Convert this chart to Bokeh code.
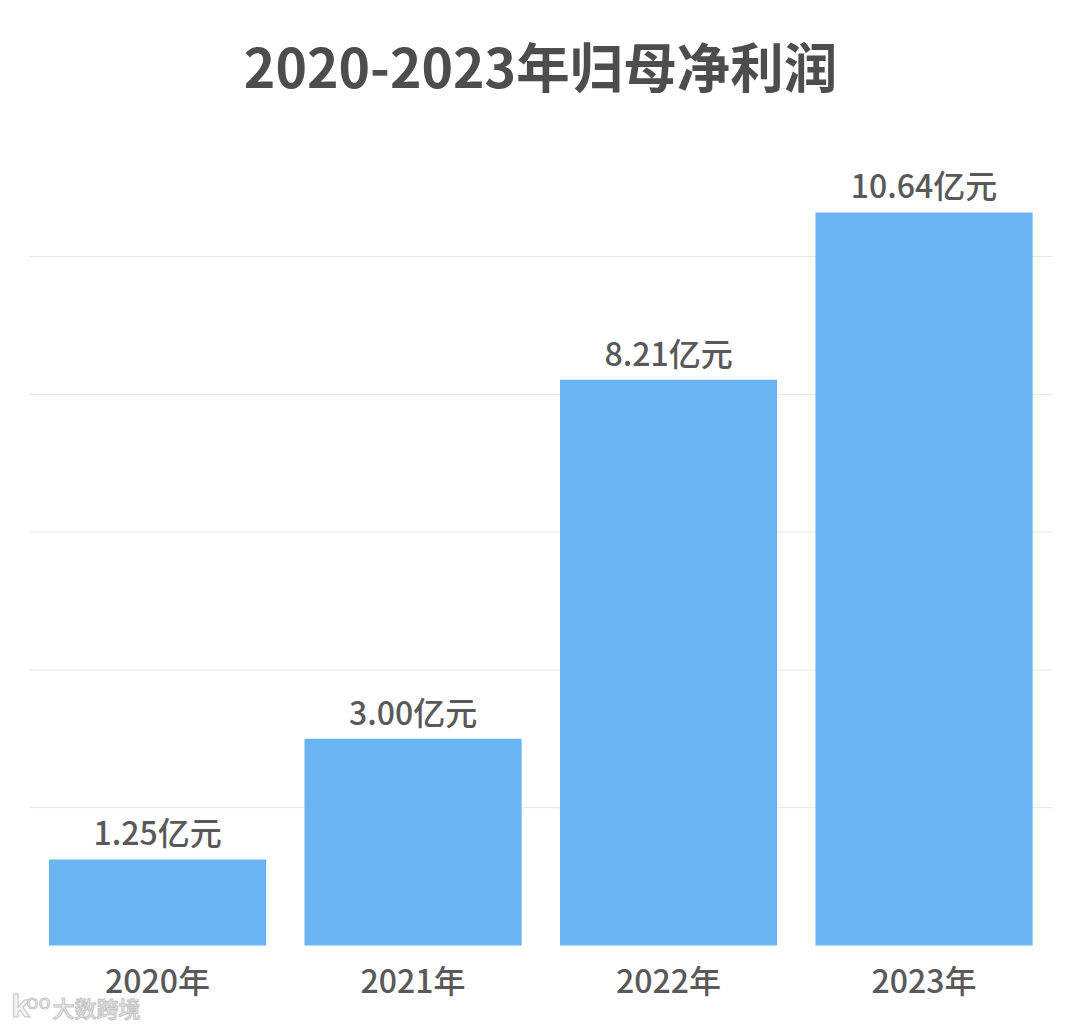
from bokeh.plotting import figure
from bokeh.embed import file_html
from bokeh.resources import INLINE
from bokeh.models import ColumnDataSource, FixedTicker, Range1d, Label
from bokeh.core.properties import value

years = ["2020年", "2021年", "2022年", "2023年"]
profits = [1.25, 3.00, 8.21, 10.64]
labels = ["1.25亿元", "3.00亿元", "8.21亿元", "10.64亿元"]
grid_ticks = [2, 4, 6, 8, 10]
title_text = "2020-2023年归母净利润"
watermark = "大数跨境"

FONT = "Noto Sans CJK SC Medium"
W, H = 1080, 1026
# The frame fills the page so that title and watermark are not clipped.
PX_X = 255.5          # pixels per category
PX_Y = 68.9           # pixels per unit of value
X0 = 29.3             # page x of the left edge of the first category
Y0 = 945.0            # page y of the baseline
RIGHT = 1052          # page x where gridlines end

p = figure(width=W, height=H, output_backend="svg", toolbar_location=None,
           x_range=Range1d(-0.5 - X0 / PX_X, -0.5 + (W - X0) / PX_X),
           y_range=Range1d(-(H - Y0) / PX_Y, Y0 / PX_Y),
           min_border_left=0, min_border_right=0,
           min_border_top=0, min_border_bottom=0)
p.background_fill_color = "#ffffff"
p.border_fill_color = "#ffffff"
p.outline_line_color = None

p.xgrid.visible = False
p.ygrid.visible = False
p.yaxis.visible = False

p.segment(x0=[-0.5] * len(grid_ticks), x1=[-0.5 + (RIGHT - X0) / PX_X] * len(grid_ticks),
          y0=grid_ticks, y1=grid_ticks, line_color="#e6e6e6", line_width=1)

src = ColumnDataSource(dict(x=[0, 1, 2, 3], top=profits, label=labels))
p.vbar(x="x", top="top", bottom=0, width=0.85, source=src,
       fill_color="#6ab4f4", line_color=None)
p.text(x="x", y="top", text="label", source=src, text_align="center",
       text_baseline="bottom", y_offset=-5, text_font=value(FONT),
       text_font_size="32px", text_color="#595959")

p.xaxis.fixed_location = 0
p.xaxis.ticker = FixedTicker(ticks=[0, 1, 2, 3])
p.xaxis.major_label_overrides = {i: y for i, y in enumerate(years)}
p.xaxis.major_label_text_font = FONT
p.xaxis.major_label_text_font_size = "32px"
p.xaxis.major_label_text_font_style = "normal"
p.xaxis.major_label_text_color = "#595959"
p.xaxis.axis_line_color = None
p.xaxis.major_tick_line_color = None
p.xaxis.minor_tick_line_color = None
p.xaxis.major_label_standoff = 4

# Label screen coordinates are measured from the frame's lower-left corner
p.add_layout(Label(x=540, y=H - 64, x_units="screen", y_units="screen",
                   text=title_text, text_align="center", text_baseline="middle",
                   text_font="Noto Sans CJK SC", text_font_size="53.5px",
                   text_font_style="bold", text_color="#4d4d4d"))
p.add_layout(Label(x=96, y=H - 1006, x_units="screen", y_units="screen",
                   text=watermark, text_align="center", text_baseline="middle",
                   text_font=FONT, text_font_size="22px", text_color="#ececec",
                   text_outline_color="#c4c4c4"))
p.add_layout(Label(x=20, y=H - 1005, x_units="screen", y_units="screen",
                   text="k", text_align="center", text_baseline="middle",
                   text_font="Noto Sans", text_font_size="30px", text_font_style="bold",
                   text_color="#f4f4f4", text_outline_color="#c4c4c4"))
p.add_layout(Label(x=38, y=H - 1001, x_units="screen", y_units="screen",
                   text="oo", text_align="center", text_baseline="middle",
                   text_font="Noto Sans", text_font_size="20px",
                   text_color="#f4f4f4", text_outline_color="#c4c4c4"))

open("out.html", "w").write(file_html(p, INLINE))
